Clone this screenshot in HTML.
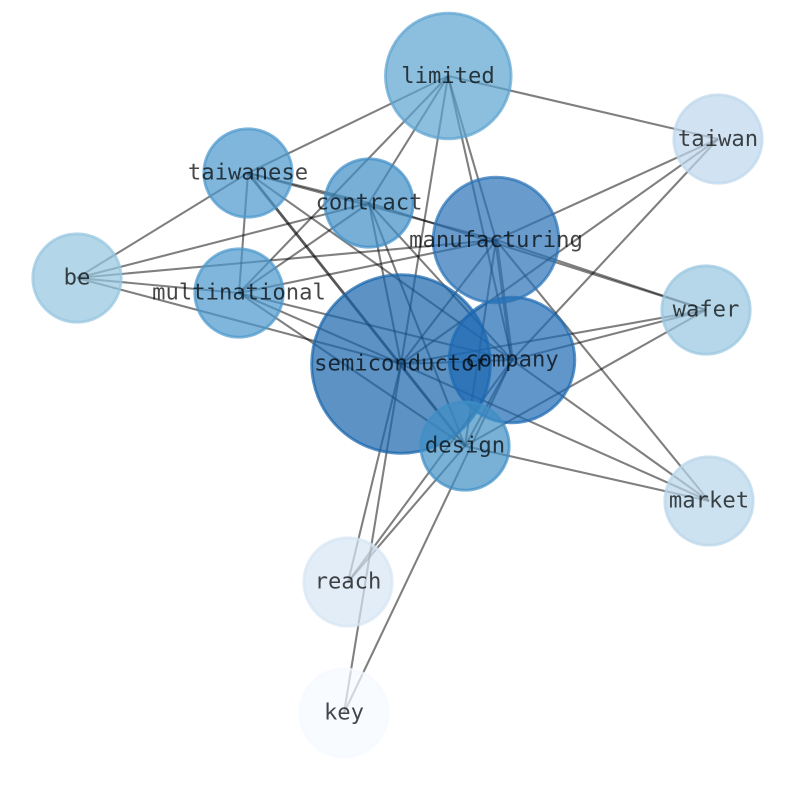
<!DOCTYPE html>
<html><head><meta charset="utf-8"><style>
html,body{margin:0;padding:0;background:#fff;width:794px;height:790px;overflow:hidden}
svg{display:block}
line{stroke:#000;stroke-opacity:.5;stroke-width:2.08}
circle{stroke-width:2.9;fill-opacity:.7;stroke-opacity:.7}
text{font-family:"DejaVu Sans Mono",monospace;font-size:22.2px;fill:#000;fill-opacity:.72;text-anchor:middle}
</style></head><body>
<svg width="794" height="790" viewBox="0 0 794 790" xmlns="http://www.w3.org/2000/svg">
<g>
<!-- limited --><line x1="448" y1="76" x2="248" y2="173"/><line x1="448" y1="76" x2="369" y2="203"/><line x1="448" y1="76" x2="239" y2="293"/><line x1="448" y1="76" x2="496" y2="240"/><line x1="448" y1="76" x2="401" y2="364"/><line x1="448" y1="76" x2="512" y2="360"/><line x1="448" y1="76" x2="718" y2="139"/>
<!-- taiwanese --><line x1="248" y1="173" x2="77" y2="278"/><line x1="248" y1="173" x2="239" y2="293"/><line x1="248" y1="173" x2="369" y2="203"/><line x1="248" y1="173" x2="496" y2="240"/><line x1="248" y1="173" x2="465.5" y2="446.5" style="stroke-width:2.8;stroke-opacity:.66"/><line x1="248" y1="173" x2="512" y2="360"/>
<!-- contract --><line x1="369" y1="203" x2="77" y2="278"/><line x1="369" y1="203" x2="239" y2="293"/><line x1="369" y1="203" x2="401" y2="364"/><line x1="369" y1="203" x2="512" y2="360"/><line x1="369" y1="203" x2="465" y2="446"/><line x1="369" y1="203" x2="706" y2="310"/>
<!-- be --><line x1="77" y1="278" x2="496" y2="240"/><line x1="77" y1="278" x2="239" y2="293"/><line x1="77" y1="278" x2="401" y2="364"/>
<!-- multinational --><line x1="239" y1="293" x2="496" y2="240"/><line x1="239" y1="293" x2="401" y2="364"/><line x1="239" y1="293" x2="512" y2="360"/><line x1="239" y1="293" x2="465" y2="446"/>
<!-- manufacturing --><line x1="496" y1="240" x2="401" y2="364"/><line x1="496" y1="240" x2="512" y2="360" style="stroke-width:3.6"/><line x1="496" y1="240" x2="465" y2="446"/><line x1="496" y1="240" x2="718" y2="139"/><line x1="496" y1="240" x2="706" y2="310"/><line x1="496" y1="240" x2="709" y2="501"/>
<!-- semiconductor --><line x1="401" y1="364" x2="512" y2="360"/><line x1="401" y1="364" x2="718" y2="139"/><line x1="401" y1="364" x2="706" y2="310"/><line x1="401" y1="364" x2="709" y2="501"/><line x1="401" y1="364" x2="348" y2="582"/><line x1="401" y1="364" x2="344" y2="713"/>
<!-- company --><line x1="512" y1="360" x2="465" y2="446"/><line x1="512" y1="360" x2="718" y2="139"/><line x1="512" y1="360" x2="706" y2="310"/><line x1="512" y1="360" x2="709" y2="501"/><line x1="512" y1="360" x2="348" y2="582"/><line x1="512" y1="360" x2="344" y2="713"/>
<!-- design --><line x1="465" y1="446" x2="706" y2="310"/><line x1="465" y1="446" x2="709" y2="501"/><line x1="465" y1="446" x2="348" y2="582"/>
</g>
<g>
<circle cx="401" cy="364" r="89.3" fill="#1764ab" stroke="#1764ab"/>
<circle cx="512" cy="360" r="62.8" fill="#1c6ab3" stroke="#1c6ab3"/>
<circle cx="496" cy="240" r="62.8" fill="#2a72b6" stroke="#2a72b6"/>
<circle cx="465" cy="446" r="44.2" fill="#3e8ec4" stroke="#3e8ec4"/>
<circle cx="448.3" cy="76" r="62.8" fill="#5ba3d0" stroke="#5ba3d0"/>
<circle cx="369" cy="203" r="44.2" fill="#3e8dc6" stroke="#3e8dc6"/>
<circle cx="248" cy="173" r="44.2" fill="#4a97cc" stroke="#4a97cc"/>
<circle cx="239" cy="293" r="44.2" fill="#4a97cc" stroke="#4a97cc"/>
<circle cx="77" cy="278" r="44.2" fill="#94c4df" stroke="#94c4df"/>
<circle cx="706" cy="310" r="44.2" fill="#97c6df" stroke="#97c6df"/>
<circle cx="718" cy="139" r="44.2" fill="#bdd7ec" stroke="#bdd7ec"/>
<circle cx="709" cy="501" r="44.2" fill="#b8d5ea" stroke="#b8d5ea"/>
<circle cx="348" cy="582" r="44.2" fill="#d6e5f4" stroke="#d6e5f4"/>
<circle cx="344" cy="713" r="44.2" fill="#f5faff" stroke="#f5faff"/>
</g>
<g>
<text x="448" y="83">limited</text>
<text x="718" y="146">taiwan</text>
<text x="248" y="179.5">taiwanese</text>
<text x="369" y="209.5">contract</text>
<text x="496" y="247">manufacturing</text>
<text x="77" y="284.5">be</text>
<text x="239" y="299.5">multinational</text>
<text x="706" y="316.5">wafer</text>
<text x="401" y="370.5">semiconductor</text>
<text x="512" y="366.5">company</text>
<text x="465" y="452.5">design</text>
<text x="709" y="507.5">market</text>
<text x="348" y="588.5">reach</text>
<text x="344" y="719.5">key</text>
</g>
</svg>
</body></html>
